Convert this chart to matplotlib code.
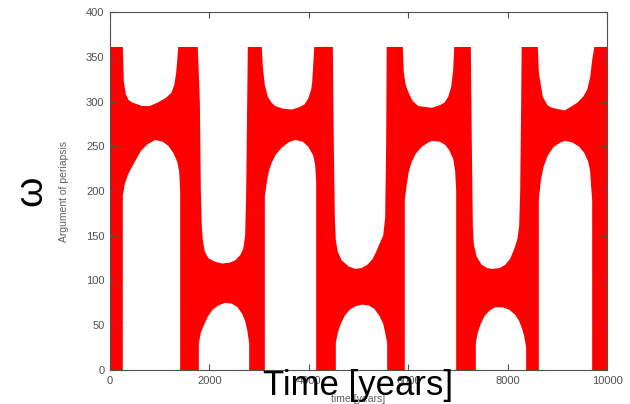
import numpy as np
import matplotlib
matplotlib.use('Agg')
import matplotlib.pyplot as plt

plt.rcParams['font.family'] = ['Liberation Sans', 'DejaVu Sans']

# outline of the scatter cloud
# upper edge of the red points (time [years], argument of periapsis [deg])
upper_t = [0, 241,
           262, 302, 362, 443, 644, 805, 966, 1127, 1247, 1308, 1348, 1368, 1388,
           1750, 1791, 1811, 1831, 1851, 1891, 1972, 2113, 2254, 2414, 2535, 2636,
           2696, 2736, 2757, 2777, 2790,
           3038, 3058, 3099, 3159, 3239, 3320, 3481, 3662, 3823, 3924, 4004, 4064,
           4084, 4105, 4125,
           4467, 4487, 4507, 4527, 4567, 4648, 4789, 4930, 5070, 5191, 5292, 5372,
           5433, 5513, 5553, 5573, 5584,
           5875, 5895, 5936, 5996, 6076, 6197, 6479, 6640, 6740, 6821, 6881, 6922, 6942,
           7243, 7264, 7284, 7304, 7364, 7465, 7586, 7686, 7847, 7968, 8068, 8149,
           8209, 8249, 8270, 8290, 8300,
           8592, 8612, 8692, 8793, 8893, 9155, 9416, 9537, 9618, 9678, 9718, 9759, 10000]
upper_w = [360, 360,
           322, 308, 301, 298, 294, 294, 298, 303, 309, 318, 332, 345, 360,
           360, 300, 200, 160, 145, 132, 124, 120, 118, 119, 122, 128,
           135, 150, 200, 300, 360,
           360, 339, 318, 305, 298, 294, 291, 290, 293, 296, 303, 313,
           321, 340, 360,
           360, 250, 170, 145, 132, 122, 115, 112, 113, 117, 123, 132,
           140, 150, 170, 250, 360,
           360, 332, 318, 309, 300, 294, 292, 295, 298, 305, 316, 335, 360,
           360, 250, 160, 140, 126, 117, 113, 112, 113, 117, 124, 135,
           145, 160, 200, 300, 360,
           360, 332, 305, 295, 292, 289, 298, 305, 313, 327, 346, 360, 360]

# lower edge of the red points
lower_t = [0, 241,
           241, 282, 342, 423, 503, 604, 744, 905, 1066, 1187, 1288, 1368, 1408, 1429, 1429,
           1771, 1771, 1811, 1871, 1952, 2052, 2173, 2314, 2455, 2575, 2676, 2736,
           2777, 2817, 2817,
           3099, 3099, 3139, 3179, 3239, 3320, 3441, 3581, 3722, 3883, 4004, 4105,
           4145, 4165, 4165,
           4527, 4527, 4567, 4628, 4708, 4809, 4930, 5070, 5211, 5332, 5433, 5513,
           5553, 5594, 5594,
           5915, 5915, 5956, 5996, 6056, 6137, 6258, 6398, 6479, 6640, 6761, 6841,
           6922, 6962, 6982, 6982,
           7344, 7344, 7384, 7445, 7525, 7626, 7746, 7907, 8048, 8169, 8249, 8310,
           8350, 8390, 8390,
           8612, 8612, 8652, 8712, 8793, 8913, 9054, 9155, 9316, 9457, 9557, 9638,
           9678, 9698, 9718, 9718, 10000]
lower_w = [0, 0,
           195, 208, 218, 227, 235, 245, 253, 258, 256, 251, 243, 233, 222, 200, 0,
           0, 30, 42, 50, 60, 68, 73, 76, 75, 71, 63, 55,
           45, 30, 0,
           0, 195, 210, 222, 232, 241, 249, 255, 258, 256, 250, 240,
           229, 210, 0,
           0, 30, 42, 52, 61, 68, 72, 74, 73, 69, 61, 52,
           42, 30, 0,
           0, 190, 208, 222, 233, 242, 250, 255, 257, 256, 252, 246,
           236, 222, 200, 0,
           0, 30, 42, 52, 61, 67, 71, 71, 68, 62, 55, 46,
           38, 25, 0,
           0, 190, 212, 228, 240, 250, 255, 257, 255, 250, 243, 233,
           222, 205, 190, 0, 0]

xticks = [0, 2000, 4000, 6000, 8000, 10000]
yticks = [0, 50, 100, 150, 200, 250, 300, 350, 400]

fig = plt.figure(figsize=(6.3, 4.04), dpi=100)
ax = fig.add_axes([110/630, 1 - 370/404, 497/630, 358/404])

poly_t = np.concatenate([upper_t, lower_t[::-1]])
poly_w = np.concatenate([upper_w, lower_w[::-1]])
ax.fill(poly_t, poly_w, facecolor='#ff0000', edgecolor='#ff0000', lw=1.2)

ax.set_xlim(0, 10000)
ax.set_ylim(0, 400)
ax.set_xticks(xticks)
ax.set_yticks(yticks)
ax.tick_params(direction='in', length=4, width=0.8, top=True, right=True,
               labelsize=8, labelcolor='#505050', color='#505050', pad=4)
for s in ax.spines.values():
    s.set_color('#505050')
    s.set_linewidth(0.8)

ax.set_ylabel('Argument of periapsis', fontsize=7.5, color='#606060', labelpad=12)
ax.set_xlabel('time [years]', fontsize=7.5, color='#606060', labelpad=6)

# big overlay labels
fig.text(31/630, 1 - 191/404, 'ω', rotation=90, fontsize=28,
         ha='center', va='center', color='black')
fig.text(358/630, 1 - 386/404, 'Time [years]', fontsize=25,
         ha='center', va='center', color='black')

fig.savefig('out.png', dpi=100)
